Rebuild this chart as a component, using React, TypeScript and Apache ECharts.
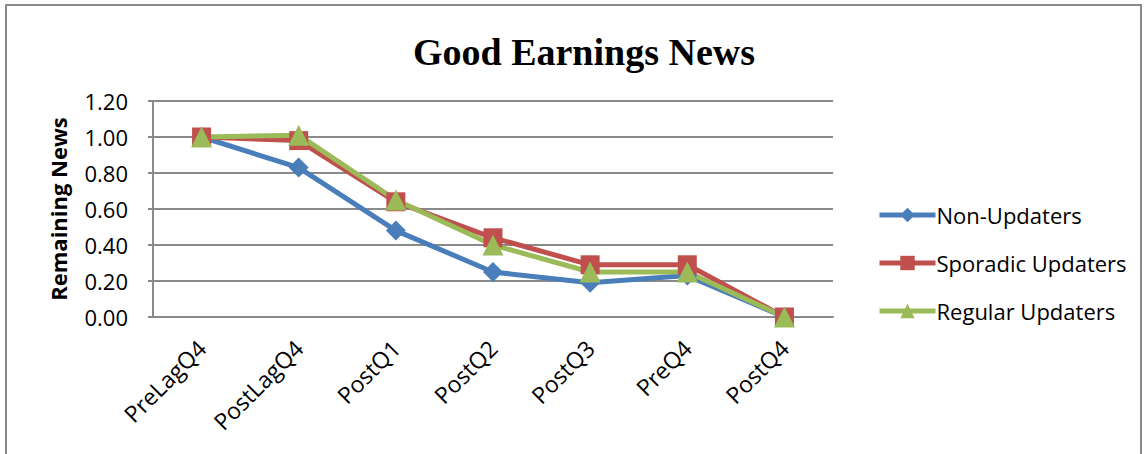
import React, { useEffect, useRef } from "react";
import * as echarts from "echarts";

const categories = ["PreLagQ4", "PostLagQ4", "PostQ1", "PostQ2", "PostQ3", "PreQ4", "PostQ4"];
const nonUpdaters = [1.0, 0.83, 0.48, 0.25, 0.19, 0.23, 0.0];
const sporadicUpdaters = [1.0, 0.98, 0.64, 0.44, 0.29, 0.29, 0.0];
const regularUpdaters = [1.0, 1.01, 0.65, 0.4, 0.25, 0.25, 0.0];
const seriesNames = ["Non-Updaters", "Sporadic Updaters", "Regular Updaters"];
const colors = ["#4A7EBB", "#C0504D", "#9BBB59"];

const SANS = "'Open Sans', sans-serif";

export default function App() {
  const ref = useRef<HTMLDivElement>(null);
  useEffect(() => {
    if (!ref.current) return;
    const chart = echarts.init(ref.current, undefined, { renderer: "svg" });
    const mk = (name: string, data: number[], color: string, symbol: string, size: number) => ({
      name,
      type: "line",
      data,
      symbol,
      symbolSize: size,
      showSymbol: true,
      lineStyle: { color, width: 5 },
      itemStyle: { color },
    });
    chart.setOption({
      animation: false,
      backgroundColor: "#ffffff",
      title: {
        text: "Good Earnings News",
        left: 579,
        textAlign: "center",
        top: 28,
        textStyle: {
          fontFamily: "'Liberation Serif', serif",
          fontWeight: "bold",
          fontSize: 38,
          color: "#000",
        },
      },
      graphic: [
        {
          type: "rect",
          shape: { x: 6, y: 5, width: 1135, height: 470 },
          style: { fill: "none", stroke: "#8a8a8a", lineWidth: 2 },
          z: 0,
        },
      ],
      legend: {
        orient: "vertical",
        left: 872,
        top: 199,
        itemWidth: 56,
        itemHeight: 18,
        itemGap: 26,
        data: seriesNames,
        lineStyle: { width: 5 },
        textStyle: { fontFamily: SANS, fontSize: 22, color: "#000", padding: [0, 0, 0, -4] },
      },
      grid: { left: 153, top: 101, right: 312, bottom: 137, containLabel: false },
      xAxis: {
        type: "category",
        data: categories,
        boundaryGap: true,
        axisLine: { show: true, lineStyle: { color: "#8a8a8a", width: 2 } },
        axisTick: { show: false },
        axisLabel: {
          rotate: 45,
          margin: 27,
          fontFamily: SANS,
          fontSize: 23,
          color: "#000",
          interval: 0,
        },
      },
      yAxis: {
        type: "value",
        min: 0,
        max: 1.2,
        interval: 0.2,
        name: "Remaining News",
        nameLocation: "middle",
        nameGap: 84,
        nameRotate: 90,
        nameTextStyle: { fontFamily: SANS, fontWeight: "bold", fontSize: 22, color: "#000" },
        axisLine: { show: true, lineStyle: { color: "#8a8a8a", width: 2 } },
        axisTick: { show: true, inside: false, length: 5, lineStyle: { color: "#8a8a8a", width: 2 } },
        splitLine: { show: true, lineStyle: { color: "#8a8a8a", width: 2 } },
        axisLabel: {
          margin: 25,
          fontFamily: SANS,
          fontSize: 22,
          color: "#000",
          formatter: (v: number) => v.toFixed(2),
        },
      },
      series: [
        mk(seriesNames[0], nonUpdaters, colors[0], "diamond", 20),
        mk(seriesNames[1], sporadicUpdaters, colors[1], "rect", 19),
        mk(seriesNames[2], regularUpdaters, colors[2], "triangle", 21),
      ],
    });
    return () => chart.dispose();
  }, []);
  return (
    <div
      ref={ref}
      style={{ position: "fixed", left: 0, top: 0, width: 1145, height: 454 }}
    />
  );
}
